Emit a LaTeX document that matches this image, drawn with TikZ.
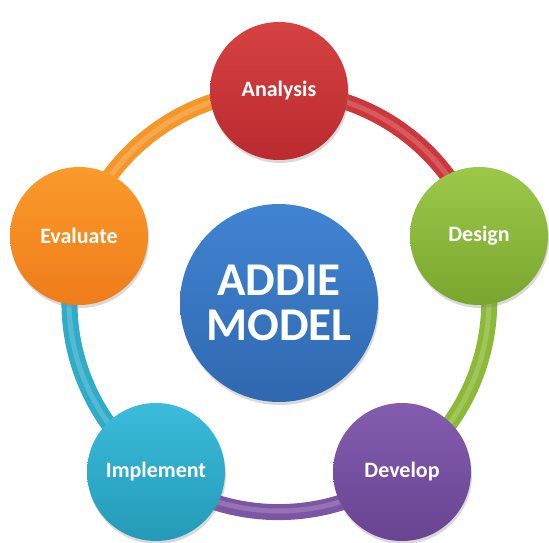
\documentclass[tikz,border=0pt]{standalone}
\usepackage{fontspec}
\setmainfont{Carlito}
\usetikzlibrary{shadows,backgrounds}
\definecolor{redT}{RGB}{214,66,66}\definecolor{redB}{RGB}{186,42,46}\definecolor{redR}{RGB}{205,55,60}
\definecolor{grnT}{RGB}{156,200,74}\definecolor{grnB}{RGB}{122,166,46}\definecolor{grnR}{RGB}{140,185,55}
\definecolor{purT}{RGB}{132,92,175}\definecolor{purB}{RGB}{104,68,146}\definecolor{purR}{RGB}{125,85,165}
\definecolor{tealT}{RGB}{58,188,218}\definecolor{tealB}{RGB}{36,154,184}\definecolor{tealR}{RGB}{48,172,200}
\definecolor{orgT}{RGB}{250,155,42}\definecolor{orgB}{RGB}{238,124,26}\definecolor{orgR}{RGB}{245,150,40}
\definecolor{bluT}{RGB}{64,132,210}\definecolor{bluB}{RGB}{48,104,176}
\begin{document}
\begin{tikzpicture}[x=1pt,y=1pt,
  phase/.style={circle, minimum size=138pt, inner sep=0pt, text=white,
    font=\bfseries\fontsize{22}{24}\selectfont,
    drop shadow={opacity=0.3,shadow xshift=1pt,shadow yshift=-3pt}},
  hub/.style={circle, minimum size=198pt, inner sep=0pt, text=white, align=center,
    font=\bfseries\fontsize{47}{49}\selectfont, top color=bluT, bottom color=bluB,
    drop shadow={opacity=0.3,shadow xshift=1pt,shadow yshift=-3pt}},
  ringseg/.style={line width=16pt},
  ringhi/.style={line width=5pt, opacity=0.18}]
\useasboundingbox (0,0) rectangle (549,543);
\node[phase, top color=redT, bottom color=redB] (ana) at (279,452) {Analysis};
\node[phase, top color=grnT, bottom color=grnB] (des) at (479,307) {Design};
\node[phase, top color=purT, bottom color=purB] (dev) at (402,71) {Develop};
\node[phase, top color=tealT, bottom color=tealB] (imp) at (156,71) {Implement};
\node[phase, top color=orgT, bottom color=orgB] (eva) at (79,307) {Evaluate};
\node[hub] (hub) at (279,240) {ADDIE\\[-4pt]MODEL};
\begin{scope}[on background layer]
\draw[ringseg, redR] (ana.center) arc[start angle=90, end angle=18, radius=210];
\draw[ringseg, grnR] (des.center) arc[start angle=18, end angle=-54, radius=210];
\draw[ringseg, purR] (dev.center) arc[start angle=-54, end angle=-126, radius=210];
\draw[ringseg, tealR] (imp.center) arc[start angle=234, end angle=162, radius=210];
\draw[ringseg, orgR] (eva.center) arc[start angle=162, end angle=90, radius=210];
\draw[ringhi, white] (ana.center) arc[start angle=90, end angle=-270, radius=210];
\end{scope}
\end{tikzpicture}
\end{document}
